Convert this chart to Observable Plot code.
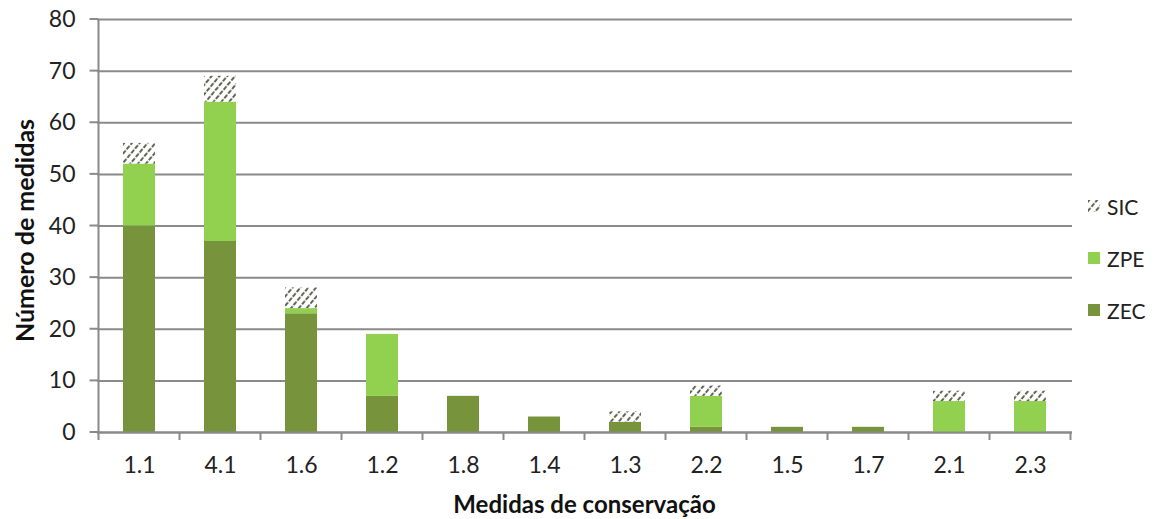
<!DOCTYPE html>
<html>
<head>
<meta charset="utf-8">
<script src="https://cdn.jsdelivr.net/npm/d3@7"></script>
<script src="https://cdn.jsdelivr.net/npm/@observablehq/plot@0.6"></script>
<style>
  html, body { margin: 0; padding: 0; background: #fff; }
  #wrap { position: relative; width: 1156px; height: 519px; font-family: Lato, "Open Sans", sans-serif; }
  #legend { position: absolute; left: 1088px; top: 191px; font-size: 21px; color: #222; }
  .item { display: flex; align-items: center; height: 30px; margin-bottom: 22px; }
  .sw { width: 12px; height: 12px; margin-right: 7px; }
</style>
</head>
<body>
<div id="wrap"></div>
<script>
// Conservation measures and count of measures per site type
const categories = ["1.1", "4.1", "1.6", "1.2", "1.8", "1.4", "1.3", "2.2", "1.5", "1.7", "2.1", "2.3"];
const zec = [40, 37, 23, 7, 7, 3, 2, 1, 1, 1, 0, 0];
const zpe = [12, 27, 1, 12, 0, 0, 0, 6, 0, 0, 6, 6];
const sic = [4, 5, 4, 0, 0, 0, 2, 2, 0, 0, 2, 2];
const seriesNames = ["ZEC", "ZPE", "SIC"];
const yTicks = [0, 10, 20, 30, 40, 50, 60, 70, 80];

const colZEC = "#77933c";
const colZPE = "#92d050";
const gridCol = "#8a8a8a";
const font = "Lato, 'Open Sans', sans-serif";

const rows = [];
categories.forEach((c, i) => {
  rows.push({cat: c, series: "ZEC", value: zec[i]});
  rows.push({cat: c, series: "ZPE", value: zpe[i]});
  rows.push({cat: c, series: "SIC", value: sic[i]});
});

const W = 1156, H = 519;
const mL = 97, mR = 84, mT = 19, mB = 87;

const chart = Plot.plot({
  width: W,
  height: H,
  marginLeft: mL,
  marginRight: mR,
  marginTop: mT,
  marginBottom: mB,
  style: {fontFamily: font, background: "#fff", overflow: "visible"},
  x: {domain: categories, paddingInner: 0.6, paddingOuter: 0.3, align: 0.5, label: null, axis: null},
  y: {domain: [0, 80], label: null, axis: null},
  color: {domain: seriesNames, range: [colZEC, colZPE, "url(#sicHatch)"]},
  marks: [
    Plot.gridY(yTicks, {stroke: gridCol, strokeOpacity: 1, strokeWidth: 2}),
    Plot.barY(rows, Plot.stackY({order: seriesNames, x: "cat", y: "value", fill: "series"})),
    Plot.ruleY([0], {stroke: gridCol, strokeWidth: 2}),
    Plot.text(categories, {x: d => d, y: 0, dy: 33, text: d => d, fontSize: 23, fill: "#222"})
  ]
});

const xs = chart.scale("x");
const ys = chart.scale("y");
const step = xs.step;
const svg = d3.select(chart);

// hatch pattern for SIC
const defs = svg.insert("defs", ":first-child");
const pat = defs.append("pattern")
  .attr("id", "sicHatch")
  .attr("patternUnits", "userSpaceOnUse")
  .attr("width", 6).attr("height", 6)
  .attr("patternTransform", "rotate(40)");
pat.append("rect").attr("width", 6).attr("height", 6).attr("fill", "#fff");
pat.append("line").attr("x1", 1).attr("y1", 0).attr("x2", 1).attr("y2", 6)
  .attr("stroke", "#3a3f2a").attr("stroke-width", 1.6).attr("stroke-dasharray", "3 1.5");

// axes drawn from the plot's scales
const axisG = svg.append("g").attr("stroke", gridCol).attr("stroke-width", 2);
const xLeft = xs.apply(categories[0]) - (step - xs.bandwidth) / 2;
const y0 = ys.apply(0);
axisG.append("line").attr("x1", xLeft).attr("x2", xLeft).attr("y1", ys.apply(80)).attr("y2", y0 + 8);
yTicks.forEach(t => {
  axisG.append("line").attr("x1", xLeft - 9).attr("x2", xLeft).attr("y1", ys.apply(t)).attr("y2", ys.apply(t));
});
for (let i = 1; i <= categories.length; i++) {
  const xb = xLeft + i * step;
  axisG.append("line").attr("x1", xb).attr("x2", xb).attr("y1", y0).attr("y2", y0 + 8);
}
const labG = svg.append("g").attr("font-size", 23).attr("fill", "#222").attr("font-family", font);
yTicks.forEach(t => {
  labG.append("text").attr("x", xLeft - 23).attr("y", ys.apply(t)).attr("dy", "0.35em")
    .attr("text-anchor", "end").text(String(t));
});

// axis titles
svg.append("text")
  .attr("x", (mL + W - mR) / 2).attr("y", 513)
  .attr("text-anchor", "middle").attr("font-size", 24).attr("font-weight", "bold").attr("fill", "#111")
  .attr("font-family", font)
  .text("Medidas de conservação");
svg.append("text")
  .attr("transform", `translate(25, ${(ys.apply(80) + y0) / 2 + 5}) rotate(-90)`)
  .attr("text-anchor", "middle").attr("dy", "0.35em").attr("font-size", 25).attr("font-weight", "bold").attr("fill", "#111")
  .attr("font-family", font)
  .text("Número de medidas");

const wrap = document.getElementById("wrap");
wrap.appendChild(chart);

// legend
const legend = document.createElement("div");
legend.id = "legend";
const legendItems = [
  {name: "SIC", fill: "url(#sicHatch)"},
  {name: "ZPE", fill: colZPE},
  {name: "ZEC", fill: colZEC}
];
legendItems.forEach(it => {
  const row = document.createElement("div");
  row.className = "item";
  row.innerHTML = `<svg class="sw" width="12" height="12"><rect width="12" height="12" fill="${it.fill}"/></svg><span>${it.name}</span>`;
  legend.appendChild(row);
});
wrap.appendChild(legend);
</script>
</body>
</html>
